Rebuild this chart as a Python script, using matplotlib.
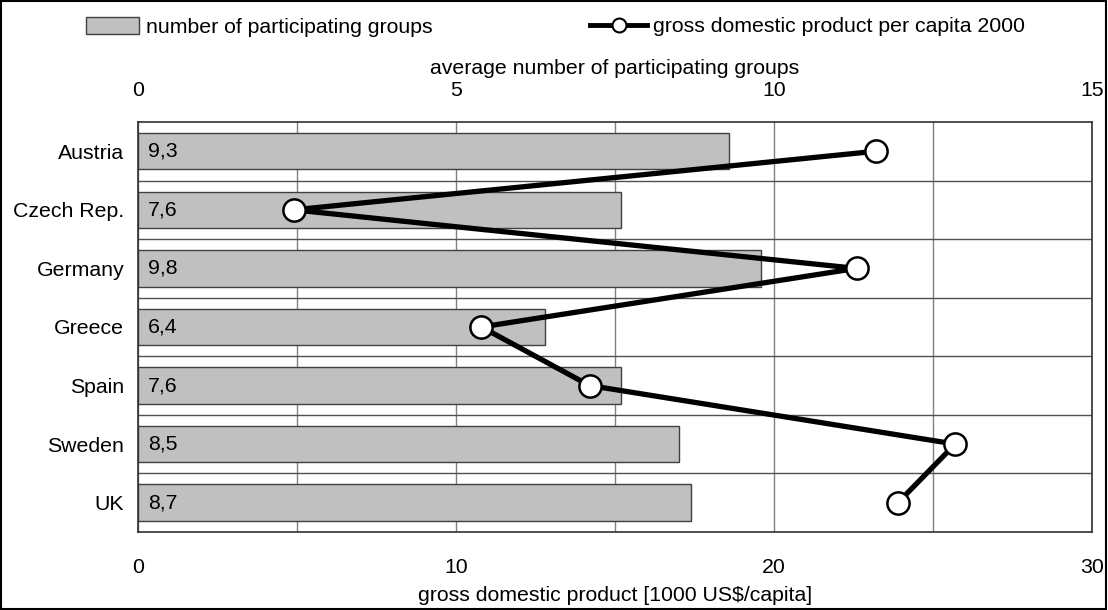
import matplotlib
matplotlib.use("Agg")
from matplotlib import pyplot as plt
from matplotlib.patches import Patch
from matplotlib.lines import Line2D

plt.rcParams['font.family'] = ['Liberation Sans', 'DejaVu Sans']
plt.rcParams['font.size'] = 15.3

countries = ["Austria", "Czech Rep.", "Germany", "Greece", "Spain", "Sweden", "UK"]
groups = [9.3, 7.6, 9.8, 6.4, 7.6, 8.5, 8.7]
gdp = [23.2, 4.9, 22.6, 10.8, 14.2, 25.7, 23.9]
group_labels = ["9,3", "7,6", "9,8", "6,4", "7,6", "8,5", "8,7"]

fig = plt.figure(figsize=(11.08, 6.1), dpi=100)
ax = fig.add_axes([0.1245, 0.128, 0.861, 0.672])
ax2 = ax.twiny()

pos = list(range(len(countries)))

# bars on the primary axes, x axis on top
ax.barh(pos, groups, height=0.62, color="#c0c0c0", edgecolor="#404040", linewidth=1, zorder=2)
for p, lab in zip(pos, group_labels):
    ax.annotate(lab, (0, p), xytext=(7, 0), textcoords="offset points",
                va="center", ha="left", zorder=3)

ax.set_xlim(0, 15)
ax.set_ylim(len(countries) - 0.5, -0.5)
ax.set_yticks(pos)
ax.set_yticklabels(countries)
ax.set_yticks([p + 0.5 for p in pos[:-1]], minor=True)
ax.set_xticks([0, 5, 10, 15])
ax.set_xticks([2.5, 7.5, 12.5], minor=True)
ax.xaxis.tick_top()
ax.xaxis.set_label_position("top")
ax.set_xlabel("average number of participating groups", labelpad=5)
ax.tick_params(axis="x", which="both", length=0, pad=16)
ax.tick_params(axis="y", which="both", length=0, pad=10)
ax.grid(axis="x", which="both", color="#808080", linewidth=1)
ax.grid(axis="y", which="minor", color="#505050", linewidth=1)
ax.set_axisbelow(True)
for s in ax.spines.values():
    s.set_color("#303030")
    s.set_linewidth(1.2)

# gdp line on the twin axes, x axis at the bottom
ax2.plot(gdp, pos, color="black", linewidth=3.8, marker="o", markersize=16,
         markerfacecolor="white", markeredgecolor="black", markeredgewidth=1.8,
         zorder=5, clip_on=False)
ax2.set_xlim(0, 30)
ax2.set_xticks([0, 10, 20, 30])
ax2.xaxis.tick_bottom()
ax2.xaxis.set_label_position("bottom")
ax2.set_xlabel("gross domestic product [1000 US$/capita]", labelpad=6)
ax2.tick_params(axis="x", length=0, pad=19)
for s in ax2.spines.values():
    s.set_visible(False)

# legends
bar_handle = Patch(facecolor="#c0c0c0", edgecolor="#404040", linewidth=1)
line_handle = Line2D([], [], color="black", linewidth=3.5, marker="o", markersize=10,
                     markerfacecolor="white", markeredgecolor="black", markeredgewidth=1.5)
fig.legend([bar_handle], ["number of participating groups"], loc="center left",
           bbox_to_anchor=(86 / 1108, 1 - 27 / 610), frameon=False, borderpad=0,
           borderaxespad=0, handlelength=2.5, handleheight=0.8, handletextpad=0.3)
fig.legend([line_handle], ["gross domestic product per capita 2000"], loc="center left",
           bbox_to_anchor=(590 / 1108, 1 - 27 / 610), frameon=False, borderpad=0,
           borderaxespad=0, handlelength=2.7, handletextpad=0.25)

# outer frame
fig.patches.append(plt.Rectangle((0.001, 0.002), 0.997, 0.996, transform=fig.transFigure,
                                 fill=False, edgecolor="black", linewidth=1.5))

fig.savefig("out.png", dpi=100)
